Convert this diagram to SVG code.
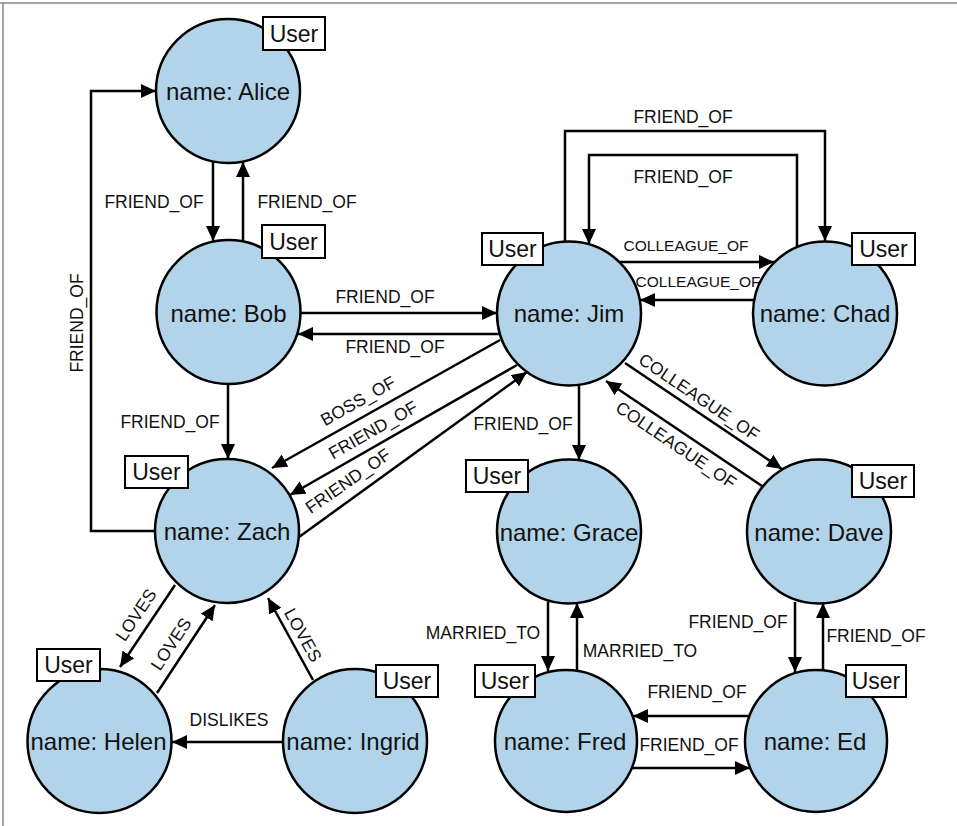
<svg xmlns="http://www.w3.org/2000/svg" width="957" height="826" viewBox="0 0 957 826">
<defs>
<marker id="ah" markerWidth="16" markerHeight="14" refX="15" refY="7" orient="auto" markerUnits="userSpaceOnUse">
<path d="M0,0 L15,7 L0,14 Z" fill="#000"/>
</marker>
<style>
.n circle{fill:#b2d4ea;stroke:#000;stroke-width:2.5}
.n rect{fill:#fff;stroke:#000;stroke-width:2}
.nt{font-family:"Liberation Sans",Arial,sans-serif;font-size:24px;text-anchor:middle;fill:#111}
.ut{font-family:"Liberation Sans",Arial,sans-serif;font-size:23px;text-anchor:middle;fill:#111}
.e line,.e polyline{stroke:#000;stroke-width:2.5;fill:none;marker-end:url(#ah)}
.l{font-family:"Liberation Sans",Arial,sans-serif;font-size:17.5px;text-anchor:middle;fill:#111}
.s{font-size:15.5px}
</style>
</defs>
<rect x="0" y="0" width="957" height="826" fill="#fff"/>
<line x1="0" y1="3" x2="957" y2="3" stroke="#888" stroke-width="1.5"/>
<line x1="3" y1="3" x2="3" y2="826" stroke="#888" stroke-width="1.5"/>

<g id="alice" class="n"><circle cx="228" cy="91" r="72"/><rect x="263" y="17" width="62" height="33"/><text class="ut" x="294" y="42">User</text><text class="nt" x="228" y="100">name: Alice</text></g>
<g id="bob" class="n"><circle cx="228.5" cy="312" r="72"/><rect x="262" y="225" width="63" height="33"/><text class="ut" x="293.5" y="250">User</text><text class="nt" x="228.5" y="322">name: Bob</text></g>
<g id="jim" class="n"><circle cx="569" cy="313.5" r="72"/><rect x="482" y="233" width="61" height="32"/><text class="ut" x="512.5" y="257">User</text><text class="nt" x="569" y="322">name: Jim</text></g>
<g id="chad" class="n"><circle cx="825" cy="313.5" r="72"/><rect x="852" y="233" width="63" height="32"/><text class="ut" x="883.5" y="257">User</text><text class="nt" x="825" y="322">name: Chad</text></g>
<g id="zach" class="n"><circle cx="227" cy="531" r="72"/><rect x="125" y="456" width="63" height="32"/><text class="ut" x="156.5" y="480">User</text><text class="nt" x="227" y="540">name: Zach</text></g>
<g id="grace" class="n"><circle cx="569" cy="531.5" r="72"/><rect x="466" y="460" width="62" height="32"/><text class="ut" x="497" y="484">User</text><text class="nt" x="569" y="541">name: Grace</text></g>
<g id="dave" class="n"><circle cx="819" cy="531.5" r="72"/><rect x="852" y="465" width="62" height="32"/><text class="ut" x="883" y="489">User</text><text class="nt" x="819" y="541">name: Dave</text></g>
<g id="helen" class="n"><circle cx="99.5" cy="741" r="72"/><rect x="37" y="649" width="63" height="32"/><text class="ut" x="68.5" y="673">User</text><text class="nt" x="98.5" y="750">name: Helen</text></g>
<g id="ingrid" class="n"><circle cx="355" cy="741" r="72"/><rect x="376" y="665" width="62" height="32"/><text class="ut" x="407" y="689">User</text><text class="nt" x="353" y="750">name: Ingrid</text></g>
<g id="fred" class="n"><circle cx="566" cy="741" r="71"/><rect x="475" y="665" width="60" height="32"/><text class="ut" x="505" y="689">User</text><text class="nt" x="565" y="750">name: Fred</text></g>
<g id="ed" class="n"><circle cx="816" cy="741" r="71"/><rect x="846" y="665" width="60" height="32"/><text class="ut" x="876" y="689">User</text><text class="nt" x="815" y="750">name: Ed</text></g>

<g id="connectors" class="e">
<line x1="213" y1="162" x2="213" y2="241"/>
<line x1="243" y1="241" x2="243" y2="162"/>
<line x1="301" y1="313" x2="497" y2="313"/>
<line x1="499" y1="334" x2="298" y2="334"/>
<line x1="228" y1="385" x2="228" y2="459"/>
<polyline points="155,531 91,531 91,91 156,91"/>
<line x1="500" y1="340" x2="272" y2="468"/>
<line x1="517" y1="365" x2="290" y2="495"/>
<line x1="299" y1="537" x2="527" y2="372"/>
<polyline points="565,242 565,131 825,131 825,241"/>
<polyline points="797,247 797,155 589,155 589,244"/>
<line x1="620" y1="262" x2="774" y2="262"/>
<line x1="754" y1="300" x2="640" y2="300"/>
<line x1="579" y1="385" x2="579" y2="460"/>
<line x1="625" y1="363" x2="782" y2="469"/>
<line x1="762" y1="486" x2="606" y2="381"/>
<line x1="548" y1="602" x2="548" y2="671"/>
<line x1="577" y1="670" x2="577" y2="603"/>
<line x1="795" y1="602" x2="795" y2="672"/>
<line x1="823" y1="670" x2="823" y2="603"/>
<line x1="748" y1="716" x2="633" y2="716"/>
<line x1="632" y1="768" x2="750" y2="768"/>
<line x1="175" y1="585" x2="120" y2="667"/>
<line x1="157" y1="693" x2="215" y2="605"/>
<line x1="313" y1="680" x2="268" y2="598"/>
<line x1="283" y1="742" x2="172" y2="742"/>
</g>

<g id="labels" class="l">
<text x="154" y="208">FRIEND_OF</text>
<text x="307" y="208">FRIEND_OF</text>
<text x="385" y="303">FRIEND_OF</text>
<text x="395" y="353">FRIEND_OF</text>
<text x="170" y="428">FRIEND_OF</text>
<text transform="translate(83,323) rotate(-90)">FRIEND_OF</text>
<text x="683" y="123">FRIEND_OF</text>
<text x="683" y="183">FRIEND_OF</text>
<text class="s" x="686" y="251">COLLEAGUE_OF</text>
<text class="s" x="698" y="287">COLLEAGUE_OF</text>
<text transform="translate(358,401) rotate(-29.5)" y="6">BOSS_OF</text>
<text transform="translate(373,430) rotate(-29.8)" y="6">FRIEND_OF</text>
<text transform="translate(348,481) rotate(-35)" y="6">FRIEND_OF</text>
<text x="523" y="430">FRIEND_OF</text>
<text transform="translate(699,397) rotate(34)" y="6">COLLEAGUE_OF</text>
<text transform="translate(676,445) rotate(34)" y="6">COLLEAGUE_OF</text>
<text x="483" y="639">MARRIED_TO</text>
<text x="640" y="657">MARRIED_TO</text>
<text x="738" y="628">FRIEND_OF</text>
<text x="876" y="642">FRIEND_OF</text>
<text x="697" y="698">FRIEND_OF</text>
<text x="689" y="751">FRIEND_OF</text>
<text x="229" y="726">DISLIKES</text>
<text transform="translate(136,615) rotate(-56)" y="6">LOVES</text>
<text transform="translate(171,644) rotate(-56.6)" y="6">LOVES</text>
<text transform="translate(303,635) rotate(61)" y="6">LOVES</text>
</g>
</svg>
